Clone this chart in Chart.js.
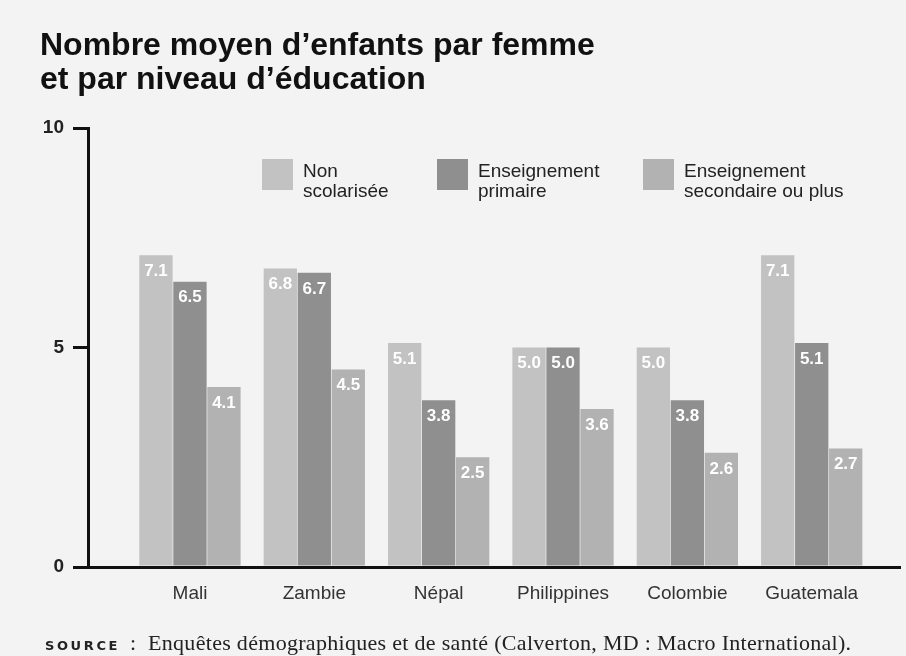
<!DOCTYPE html>
<html>
<head>
<meta charset="utf-8">
<script src="https://cdn.jsdelivr.net/npm/chart.js@4"></script>
<style>
  html, body { margin: 0; padding: 0; background: #f3f3f3; }
  #wrap { position: relative; width: 906px; height: 656px; overflow: hidden; }
  #chart { position: absolute; left: 0; top: 0; }
  .title {
    position: absolute; left: 40px; top: 27px; margin: 0;
    font: bold 32px "Liberation Sans", Arial, sans-serif; line-height: 34px; color: #111;
  }
  .legend { position: absolute; top: 159px; left: 0; }
  .item { position: absolute; top: 0; white-space: nowrap; }
  .swatch { position: absolute; left: 0; top: 0; width: 31px; height: 31px; }
  .txt {
    position: absolute; top: 2px; font: 19px "Liberation Sans", Arial, sans-serif;
    line-height: 20px; color: #222;
  }
  .source {
    position: absolute; left: 45px; top: 630px; white-space: nowrap;
    font: 22px "Liberation Serif", "Times New Roman", serif; letter-spacing: 0.3px; color: #222;
  }
  .source b {
    font: 900 13px "DejaVu Sans", sans-serif; letter-spacing: 2.6px; margin-right: 10px;
  }
</style>
</head>
<body>
<div id="wrap">
  <canvas id="chart" width="906" height="656"></canvas>
  <h1 class="title">Nombre moyen d’enfants par femme<br>et par niveau d’éducation</h1>
  <div class="legend" id="legend"></div>
  <div class="source"><b>SOURCE</b>:&nbsp; Enquêtes démographiques et de santé (Calverton, MD : Macro International).</div>
</div>
<script>
const countries = ["Mali", "Zambie", "Népal", "Philippines", "Colombie", "Guatemala"];
const nonScolarisee = [7.1, 6.8, 5.1, 5.0, 5.0, 7.1];
const primaire = [6.5, 6.7, 3.8, 5.0, 3.8, 5.1];
const secondaire = [4.1, 4.5, 2.5, 3.6, 2.6, 2.7];
const seriesNames = [["Non", "scolarisée"], ["Enseignement", "primaire"], ["Enseignement", "secondaire ou plus"]];
const seriesColors = ["#c2c2c2", "#8f8f8f", "#b2b2b2"];
const yTicks = [0, 5, 10];

// legend in html (two-line labels)
const legendLeft = [262, 437, 643];
const legendEl = document.getElementById("legend");
seriesNames.forEach((name, i) => {
  const item = document.createElement("div");
  item.className = "item";
  item.style.left = legendLeft[i] + "px";
  item.innerHTML = '<div class="swatch" style="background:' + seriesColors[i] + '"></div>' +
    '<div class="txt" style="left:41px">' + name.join("<br>") + "</div>";
  legendEl.appendChild(item);
});

const toPoints = (vals) => vals.map((v, i) => ({ x: i, y: v }));

// white values written inside the top of each bar
const valueLabels = {
  id: "valueLabels",
  afterDatasetsDraw(chart) {
    const ctx = chart.ctx;
    ctx.save();
    ctx.fillStyle = "#ffffff";
    ctx.font = "bold 17px 'Liberation Sans', Arial, sans-serif";
    ctx.textAlign = "center";
    ctx.textBaseline = "middle";
    chart.data.datasets.forEach((ds, di) => {
      chart.getDatasetMeta(di).data.forEach((bar, i) => {
        ctx.fillText(ds.data[i].y.toFixed(1), bar.x, bar.y + 16);
      });
    });
    ctx.restore();
  },
};

new Chart(document.getElementById("chart"), {
  type: "bar",
  data: {
    datasets: [
      { label: "Non scolarisée", data: toPoints(nonScolarisee), backgroundColor: seriesColors[0] },
      { label: "Enseignement primaire", data: toPoints(primaire), backgroundColor: seriesColors[1] },
      { label: "Enseignement secondaire ou plus", data: toPoints(secondaire), backgroundColor: seriesColors[2] },
    ],
  },
  options: {
    responsive: false,
    animation: false,
    categoryPercentage: 0.82,
    barPercentage: 0.98,
    layout: { padding: { top: 128, right: 6, left: 0, bottom: 0 } },
    plugins: { legend: { display: false }, tooltip: { enabled: false } },
    scales: {
      x: {
        type: "linear",
        offset: false,
        min: -0.82,
        max: 5.71,
        afterFit: (s) => { s.height = 89; },
        grid: { display: false },
        border: { display: true, color: "#111", width: 3 },
        afterBuildTicks: (s) => { s.ticks = countries.map((c, i) => ({ value: i })); },
        ticks: {
          autoSkip: false,
          maxRotation: 0,
          padding: 7,
          color: "#333",
          font: { family: "'Liberation Sans', Arial, sans-serif", size: 19 },
          callback: (v) => countries[v],
        },
      },
      y: {
        min: 0,
        max: 10,
        afterFit: (s) => { s.width = 88; },
        afterBuildTicks: (s) => { s.ticks = yTicks.map((v) => ({ value: v })); },
        grid: { drawOnChartArea: false, tickLength: 15, lineWidth: 3, color: "#111" },
        border: { display: true, color: "#111", width: 3 },
        ticks: {
          padding: 9,
          color: "#222",
          font: { family: "'Liberation Sans', Arial, sans-serif", size: 19, weight: "bold" },
        },
      },
    },
  },
  plugins: [valueLabels],
});
</script>
</body>
</html>
